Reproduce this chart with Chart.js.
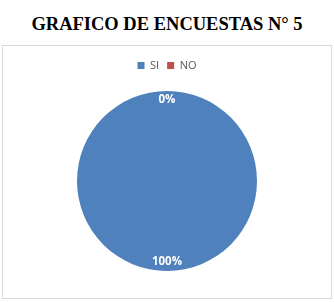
<!DOCTYPE html>
<html>
<head>
<meta charset="utf-8">
<script src="https://cdn.jsdelivr.net/npm/chart.js@4"></script>
<style>
  body { margin: 0; background: #fff; width: 334px; height: 302px; position: relative; overflow: hidden; }
  #title { position: absolute; left: 0; top: 14px; width: 334px; text-align: center;
    font-family: "Liberation Serif", "Times New Roman", serif; font-weight: bold; font-size: 18.5px; color: #000; }
  #box { position: absolute; left: 2px; top: 45px; width: 328px; height: 252px; border: 1px solid #d9d9d9; }
</style>
</head>
<body>
<div id="title">GRAFICO DE ENCUESTAS N° 5</div>
<div id="box"><canvas id="my-chart" width="328" height="252"></canvas></div>
<script>
let labels = ["SI", "NO"];
let values = [100, 0];
let colors = ["#4f81bd", "#c0504d"];

// percent labels on the slices
let pctLabels = {
  id: "pctLabels",
  afterDatasetsDraw(chart) {
    let ctx = chart.ctx;
    let meta = chart.getDatasetMeta(0);
    let total = values.reduce((a, b) => a + b, 0);
    ctx.save();
    ctx.fillStyle = "#ffffff";
    ctx.font = "bold 11.5px 'Open Sans', sans-serif";
    ctx.textAlign = "center";
    ctx.textBaseline = "middle";
    meta.data.forEach((arc, i) => {
      let mid = (arc.startAngle + arc.endAngle) / 2;
      let r = arc.outerRadius * 0.9;
      let x = arc.x + Math.cos(mid) * r;
      let y = arc.y + Math.sin(mid) * r;
      ctx.fillText(Math.round(values[i] / total * 100) + "%", x, y);
    });
    ctx.restore();
  }
};

// a bit more room under the legend
let legendGap = {
  id: "legendGap",
  beforeInit(chart) {
    let fit = chart.legend.fit;
    chart.legend.fit = function () {
      fit.bind(chart.legend)();
      this.height += 10;
    };
  }
};

let myChart = document.getElementById("my-chart").getContext("2d");
let userChart = new Chart(myChart, {
  type: "pie",
  data: {
    labels: labels,
    datasets: [{
      data: values,
      backgroundColor: colors,
      borderWidth: 0
    }]
  },
  options: {
    responsive: false,
    animation: false,
    layout: { padding: { top: 6, bottom: 27 } },
    plugins: {
      legend: {
        position: "top",
        labels: {
          boxWidth: 7,
          boxHeight: 7,
          padding: 8,
          color: "#595959",
          font: { family: "'Open Sans', sans-serif", size: 11 }
        }
      },
      tooltip: { enabled: false }
    }
  },
  plugins: [pctLabels, legendGap]
});
</script>
</body>
</html>
